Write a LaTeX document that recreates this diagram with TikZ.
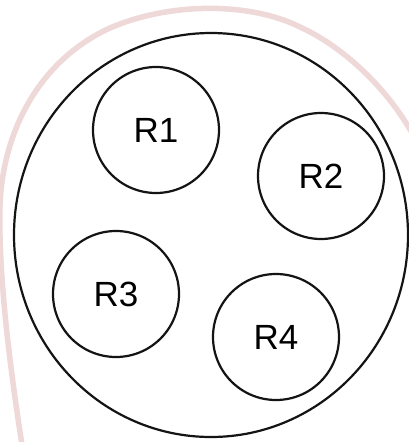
\documentclass[tikz,border=0pt]{standalone}
\usepackage{fontspec}
\setmainfont{Liberation Sans}
\usetikzlibrary{shapes.geometric}
\definecolor{palepink}{RGB}{238,216,216}
\definecolor{ink}{RGB}{20,20,20}
\begin{document}
\begin{tikzpicture}[x=1pt,y=-1pt,
  region/.style={circle,draw=ink,line width=2.2pt,minimum size=126pt,inner sep=0pt,
    font=\fontsize{35}{35}\selectfont},
  outline/.style={draw=ink,line width=2.2pt},
  backcurve/.style={draw=palepink,line width=5.5pt,line cap=round}]
\useasboundingbox (0,0) rectangle (409,442);
\fill[white] (0,0) rectangle (409,442);
\draw[backcurve] (22,445) .. controls (12,380) and (-2,280) .. (0,205)
  .. controls (3,130) and (40,60) .. (110,28)
  .. controls (170,2) and (250,2) .. (300,27)
  .. controls (340,45) and (385,85) .. (412,133);
\node[ellipse,outline,minimum width=394pt,minimum height=404pt,inner sep=0pt] (world) at (211,235) {};
\node[region] (r1) at (156,130) {R1};
\node[region] (r2) at (321,176) {R2};
\node[region] (r3) at (116,294) {R3};
\node[region] (r4) at (276,337) {R4};
\end{tikzpicture}
\end{document}
